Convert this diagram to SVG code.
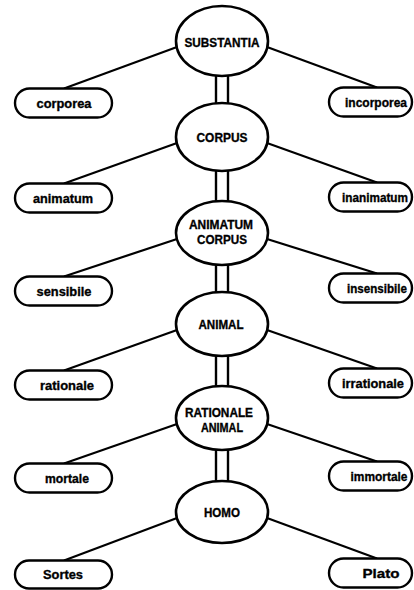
<svg xmlns="http://www.w3.org/2000/svg" width="414" height="590" viewBox="0 0 414 590">
<style>
.e{fill:#fff;stroke:#000;stroke-width:2.6}
.p{fill:#fff;stroke:#000;stroke-width:2.4}
.c line{stroke:#000;stroke-width:2.2}
.r line{stroke:#000;stroke-width:2.4}
text{font-family:"Liberation Sans",Arial,sans-serif;font-weight:bold;fill:#000;stroke:#000;stroke-width:0.35;text-anchor:middle}
.t{font-size:13px}
.l{font-size:13px}
</style>
<rect width="414" height="590" fill="#fff"/>
<g id="connectors" class="c">
<line x1="177" y1="47" x2="64" y2="88.5"/>
<line x1="267" y1="47" x2="377" y2="87.5"/>
<line x1="177" y1="143" x2="64" y2="183.5"/>
<line x1="267" y1="143" x2="377" y2="182.5"/>
<line x1="177" y1="239" x2="64" y2="276.5"/>
<line x1="267" y1="239" x2="377" y2="273.5"/>
<line x1="177" y1="330" x2="64" y2="370.5"/>
<line x1="267" y1="330" x2="377" y2="368.5"/>
<line x1="177" y1="424" x2="64" y2="463.5"/>
<line x1="267" y1="424" x2="377" y2="461.5"/>
<line x1="177" y1="518" x2="64" y2="560.5"/>
<line x1="267" y1="518" x2="377" y2="558.5"/>
<g class="r">
<line x1="216" y1="74" x2="216" y2="105"/><line x1="228" y1="74" x2="228" y2="105"/>
<line x1="216" y1="169" x2="216" y2="203"/><line x1="228" y1="169" x2="228" y2="203"/>
<line x1="216" y1="263" x2="216" y2="294"/><line x1="228" y1="263" x2="228" y2="294"/>
<line x1="216" y1="354" x2="216" y2="388"/><line x1="228" y1="354" x2="228" y2="388"/>
<line x1="216" y1="448" x2="216" y2="483"/><line x1="228" y1="448" x2="228" y2="483"/>
</g>
</g>
<g id="substantia"><ellipse class="e" cx="222" cy="41" rx="46" ry="35"/><text class="t" x="222" y="47" textLength="75" lengthAdjust="spacingAndGlyphs">SUBSTANTIA</text></g>
<g id="corporea"><rect class="p" x="15" y="88.5" width="97" height="29" rx="14.5"/><text class="l" x="64" y="107.5" textLength="55" lengthAdjust="spacingAndGlyphs">corporea</text></g>
<g id="incorporea"><rect class="p" x="329" y="87.5" width="83" height="29" rx="14.5"/><text class="l" x="376" y="106.5" textLength="62" lengthAdjust="spacingAndGlyphs">incorporea</text></g>
<g id="corpus"><ellipse class="e" cx="222" cy="137" rx="46" ry="34"/><text class="t" x="222" y="142" textLength="51" lengthAdjust="spacingAndGlyphs">CORPUS</text></g>
<g id="animatum"><rect class="p" x="15" y="183.5" width="97" height="29" rx="14.5"/><text class="l" x="63" y="202.5" textLength="60" lengthAdjust="spacingAndGlyphs">animatum</text></g>
<g id="inanimatum"><rect class="p" x="329" y="182.5" width="83" height="29" rx="14.5"/><text class="l" x="375" y="201.5" textLength="66" lengthAdjust="spacingAndGlyphs">inanimatum</text></g>
<g id="animatum-corpus"><ellipse class="e" cx="222" cy="233" rx="46" ry="32"/><text class="t" x="221" y="228.5" textLength="64" lengthAdjust="spacingAndGlyphs">ANIMATUM</text><text class="t" x="222" y="243.5" textLength="50" lengthAdjust="spacingAndGlyphs">CORPUS</text></g>
<g id="sensibile"><rect class="p" x="15" y="276.5" width="97" height="29" rx="14.5"/><text class="l" x="64" y="295.5" textLength="55" lengthAdjust="spacingAndGlyphs">sensibile</text></g>
<g id="insensibile"><rect class="p" x="329" y="273.5" width="83" height="29" rx="14.5"/><text class="l" x="377" y="292.5" textLength="60" lengthAdjust="spacingAndGlyphs">insensibile</text></g>
<g id="animal"><ellipse class="e" cx="222" cy="324" rx="46" ry="32"/><text class="t" x="221" y="329" textLength="45" lengthAdjust="spacingAndGlyphs">ANIMAL</text></g>
<g id="rationale"><rect class="p" x="15" y="370.5" width="97" height="29" rx="14.5"/><text class="l" x="67" y="389.5" textLength="54" lengthAdjust="spacingAndGlyphs">rationale</text></g>
<g id="irrationale"><rect class="p" x="329" y="368.5" width="83" height="29" rx="14.5"/><text class="l" x="373" y="387.5" textLength="62" lengthAdjust="spacingAndGlyphs">irrationale</text></g>
<g id="rationale-animal"><ellipse class="e" cx="222" cy="418" rx="46" ry="32"/><text class="t" x="219" y="416.5" textLength="68" lengthAdjust="spacingAndGlyphs">RATIONALE</text><text class="t" x="222" y="431.5" textLength="42" lengthAdjust="spacingAndGlyphs">ANIMAL</text></g>
<g id="mortale"><rect class="p" x="15" y="463.5" width="97" height="29" rx="14.5"/><text class="l" x="67" y="482.5" textLength="44" lengthAdjust="spacingAndGlyphs">mortale</text></g>
<g id="immortale"><rect class="p" x="329" y="461.5" width="83" height="29" rx="14.5"/><text class="l" x="379" y="480.5" textLength="57" lengthAdjust="spacingAndGlyphs">immortale</text></g>
<g id="homo"><ellipse class="e" cx="222" cy="512" rx="46" ry="31"/><text class="t" x="222" y="517" textLength="36" lengthAdjust="spacingAndGlyphs">HOMO</text></g>
<g id="sortes"><rect class="p" x="15" y="560.5" width="97" height="28" rx="14"/><text class="l" x="63" y="579" textLength="40" lengthAdjust="spacingAndGlyphs">Sortes</text></g>
<g id="plato"><rect class="p" x="329" y="558.5" width="83" height="29" rx="14.5"/><text class="l" x="381" y="577.5" textLength="37" lengthAdjust="spacingAndGlyphs">Plato</text></g>
</svg>
